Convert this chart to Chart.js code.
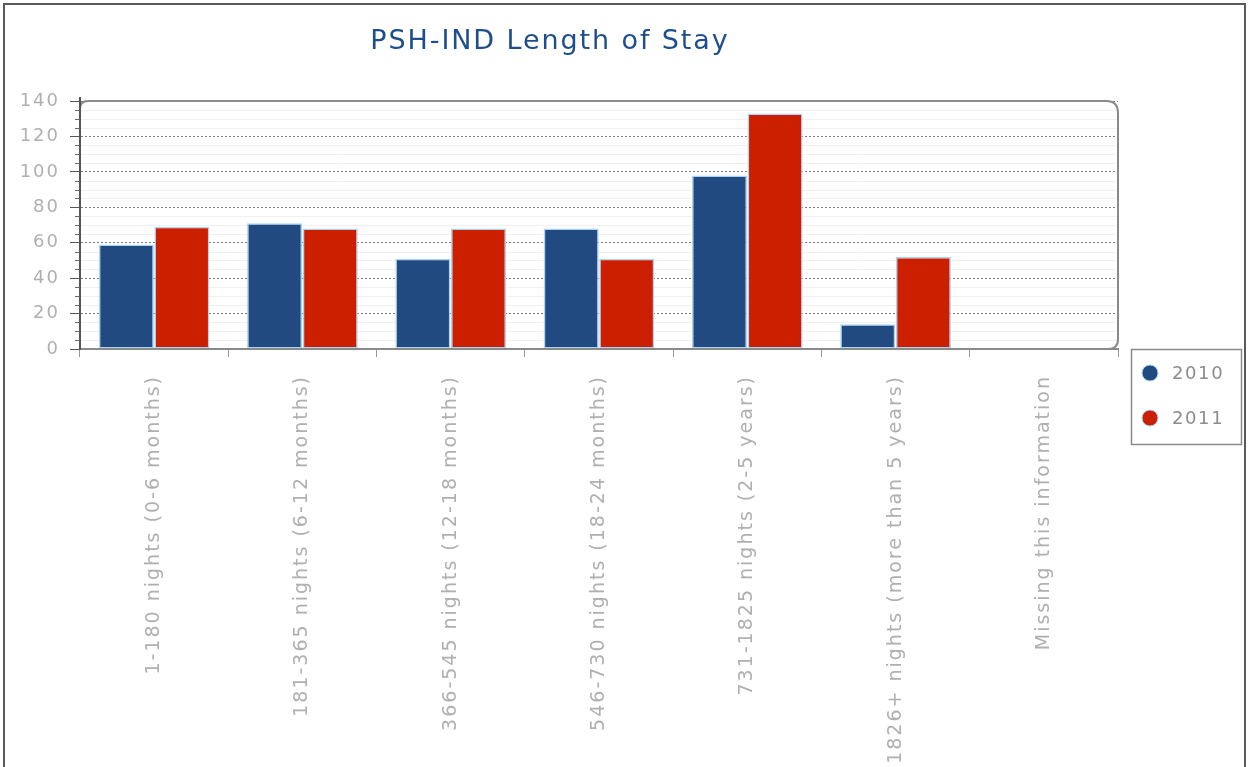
<!DOCTYPE html>
<html><head><meta charset="utf-8">
<script src="https://cdn.jsdelivr.net/npm/chart.js@4/dist/chart.umd.min.js"></script>
<style>html,body{margin:0;padding:0;background:#fff;overflow:hidden}
#wrap{position:absolute;left:0;top:0;width:1249px;height:767px}</style>
</head><body><div id="wrap"><canvas id="c" width="1249" height="767"></canvas></div>
<script>
const chartTitle = 'PSH-IND Length of Stay';
const categories = [
  '1-180 nights (0-6 months)',
  '181-365 nights (6-12 months)',
  '366-545 nights (12-18 months)',
  '546-730 nights (18-24 months)',
  '731-1825 nights (2-5 years)',
  '1826+ nights (more than 5 years)',
  'Missing this information'
];
const seriesNames = ['2010', '2011'];
const values2010 = [59, 71, 51, 68, 98, 14, null];
const values2011 = [69, 68, 68, 51, 133, 52, null];
const yTickValues = [0, 20, 40, 60, 80, 100, 120, 140];
const yMinorStep = 5;

const colors = ['#214a80', '#cc1f00'];
const FONT = "'DejaVu Sans', Verdana, sans-serif";

const decor = {
  id: 'decor',
  beforeDraw(chart) {
    const ctx = chart.ctx, a = chart.chartArea, y = chart.scales.y;
    ctx.save();
    ctx.fillStyle = '#fff';
    ctx.fillRect(0, 0, chart.width, chart.height);
    ctx.strokeStyle = '#5a5a5a';
    ctx.lineWidth = 2;
    ctx.strokeRect(4, 4, 1241, 820);
    // faint minor grid lines
    ctx.strokeStyle = '#f1f1f1';
    ctx.lineWidth = 1;
    for (let v = y.min; v <= y.max; v += yMinorStep) {
      if (v % 20 === 0) continue;
      const py = Math.round(y.getPixelForValue(v)) + 0.5;
      ctx.beginPath(); ctx.moveTo(a.left, py); ctx.lineTo(a.right, py); ctx.stroke();
    }
    ctx.restore();
    ctx.letterSpacing = '2px';
  },
  afterDraw(chart) {
    const ctx = chart.ctx, a = chart.chartArea, y = chart.scales.y;
    ctx.save();
    // rounded plot frame
    const rTL = 8, rTR = 12, rBR = 10;
    ctx.strokeStyle = '#8a8a8a';
    ctx.lineWidth = 2;
    ctx.beginPath();
    ctx.moveTo(a.left, a.bottom);
    ctx.lineTo(a.left, a.top + rTL);
    ctx.quadraticCurveTo(a.left, a.top, a.left + rTL, a.top);
    ctx.lineTo(a.right - rTR, a.top);
    ctx.quadraticCurveTo(a.right, a.top, a.right, a.top + rTR);
    ctx.lineTo(a.right, a.bottom - rBR);
    ctx.quadraticCurveTo(a.right, a.bottom, a.right - rBR, a.bottom);
    ctx.lineTo(a.left, a.bottom);
    ctx.stroke();
    // left axis line
    ctx.strokeStyle = '#555';
    ctx.lineWidth = 2;
    ctx.beginPath(); ctx.moveTo(a.left, a.top - 4); ctx.lineTo(a.left, a.bottom + 1); ctx.stroke();
    // minor ticks on y axis
    ctx.lineWidth = 1;
    ctx.strokeStyle = '#666';
    for (let v = y.min; v <= y.max; v += yMinorStep) {
      if (v % 20 === 0) continue;
      const py = Math.round(y.getPixelForValue(v)) + 0.5;
      ctx.beginPath(); ctx.moveTo(a.left - 5, py); ctx.lineTo(a.left, py); ctx.stroke();
    }
    // title
    ctx.letterSpacing = '1.9px';
    ctx.fillStyle = '#1f4e8c';
    ctx.font = '27px ' + FONT;
    ctx.textAlign = 'center';
    ctx.textBaseline = 'middle';
    ctx.fillText(chartTitle, 550, 42);
    // legend
    const lx = 1131, ly = 349, lw = 110, lh = 95;
    ctx.fillStyle = '#fff';
    ctx.fillRect(lx, ly, lw, lh);
    ctx.strokeStyle = '#8a8a8a';
    ctx.lineWidth = 1.5;
    ctx.strokeRect(lx + 0.5, ly + 0.5, lw, lh);
    ctx.letterSpacing = '1.6px';
    ctx.font = '18px ' + FONT;
    ctx.textAlign = 'left';
    chart.data.datasets.forEach((ds, i) => {
      const cy = ly + 24 + i * 45;
      ctx.beginPath();
      ctx.arc(lx + 19, cy, 8, 0, Math.PI * 2);
      ctx.fillStyle = ds.backgroundColor;
      ctx.fill();
      ctx.strokeStyle = '#a8d4f5';
      ctx.lineWidth = 1;
      ctx.stroke();
      ctx.fillStyle = '#8c8c8c';
      ctx.fillText(ds.label, lx + 41, cy + 1);
    });
    ctx.restore();
    ctx.letterSpacing = '0px';
  }
};

new Chart(document.getElementById('c'), {
  type: 'bar',
  data: {
    labels: categories,
    datasets: [
      { label: seriesNames[0], data: values2010, backgroundColor: colors[0], borderColor: '#a8d4f5', borderWidth: 1.5, borderSkipped: false },
      { label: seriesNames[1], data: values2011, backgroundColor: colors[1], borderColor: '#a8d4f5', borderWidth: 1.5, borderSkipped: false }
    ]
  },
  options: {
    responsive: false,
    animation: false,
    devicePixelRatio: 1,
    layout: { padding: { top: 101, right: 131, left: 0, bottom: 0 } },
    plugins: { legend: { display: false }, title: { display: false }, tooltip: { enabled: false } },
    datasets: { bar: { categoryPercentage: 0.75, barPercentage: 0.99 } },
    scales: {
      x: {
        grid: { offset: true, drawOnChartArea: false, drawTicks: true, tickLength: 8, tickColor: '#999', tickWidth: 1 },
        border: { display: true, color: '#8a8a8a', width: 2 },
        ticks: { color: '#b0b0b0', font: { family: FONT, size: 19 }, minRotation: 90, maxRotation: 90, autoSkip: false, padding: 18 },
        afterFit(s) { s.height = 418; }
      },
      y: {
        min: 0, max: 140,
        afterBuildTicks(s) { s.ticks = yTickValues.map(v => ({ value: v })); },
        grid: { color: '#7a7a7a', lineWidth: 1, drawTicks: true, tickLength: 10, tickColor: '#555', tickWidth: 1 },
        border: { display: true, color: '#555', width: 2, dash: [2, 2] },
        ticks: { color: '#b0b0b0', font: { family: FONT, size: 18 }, padding: 10 },
        afterFit(s) { s.width = 80; }
      }
    }
  },
  plugins: [decor]
});
</script></body></html>
